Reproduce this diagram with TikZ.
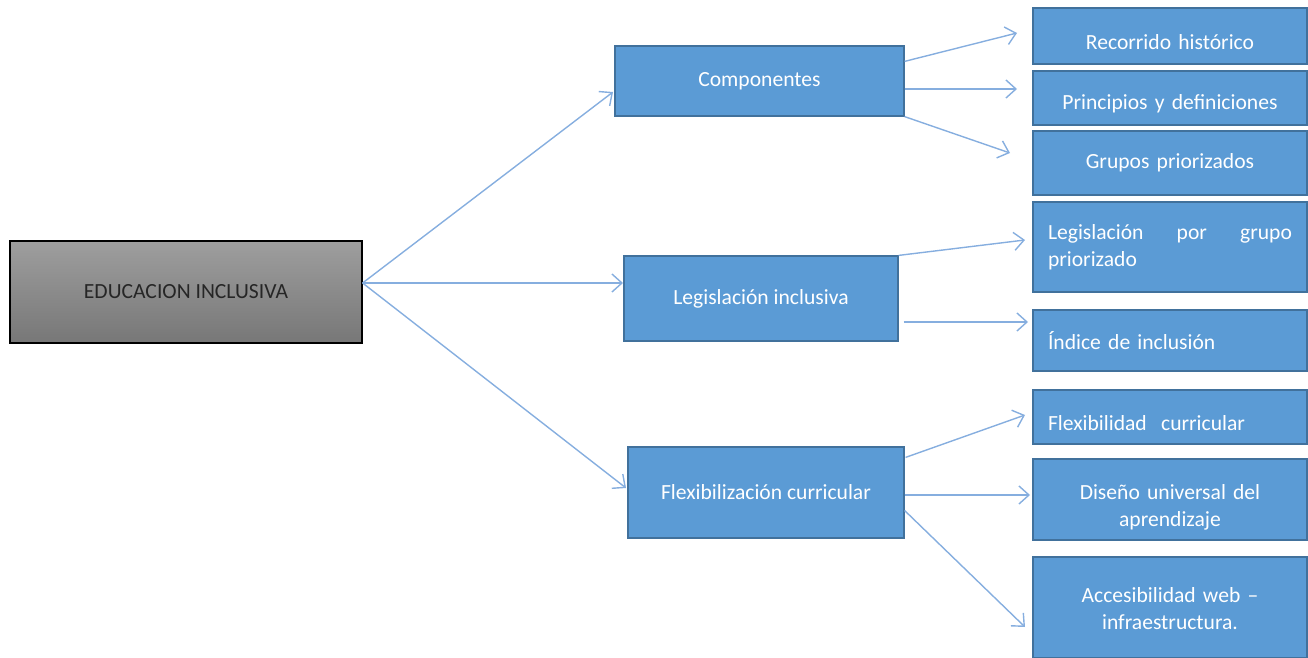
\documentclass[tikz,border=0pt]{standalone}
\usepackage{fontspec}
\setmainfont{Carlito}
\usetikzlibrary{arrows.meta,calc}
\definecolor{cajaazul}{HTML}{5B9BD5}
\definecolor{bordeazul}{HTML}{41719C}
\definecolor{flecha}{HTML}{86AEDF}
\definecolor{grisarriba}{HTML}{9E9E9E}
\definecolor{grisabajo}{HTML}{777777}
\newcommand{\bajar}[2]{\raisebox{-#1}[\height][\depth]{#2}}
\tikzset{
  caja/.style 2 args={draw=bordeazul,fill=cajaazul,text=white,line width=0.6pt,
    minimum width=#1*0.5pt,minimum height=#2*0.5pt,inner sep=0pt,
    font=\fontsize{10.8}{13.5}\selectfont},
  hoja/.style={caja={274}{#1},text width=122pt,inner xsep=7.5pt},
  flechita/.style={draw=flecha,line width=0.7pt,-{Straight Barb[length=5pt,width=9pt]}}
}
\begin{document}
\begin{tikzpicture}[x=0.5pt,y=-0.5pt]
  \useasboundingbox (0,0) rectangle (1308,658);
  % raiz
  \node[draw=black,line width=0.6pt,top color=grisarriba,bottom color=grisabajo,
    minimum width=176pt,minimum height=51pt,inner sep=0pt,text=black!85,
    font=\fontsize{10.8}{13.5}\selectfont] (raiz) at (186,292) {EDUCACION INCLUSIVA};
  % nivel intermedio
  \node[caja={289}{70}] (comp) at (759.5,81) {Componentes};
  \node[caja={274}{85}] (legi) at (761,298.5) {Legislación inclusiva};
  \node[caja={276}{91}] (flex) at (766,492.5) {Flexibilización curricular};
  % hojas
  \node[hoja={56},align=center] (rec) at (1170,36) {\bajar{3pt}{Recorrido histórico}};
  \node[hoja={54},align=center] (prin) at (1170,98) {\bajar{3pt}{Principios y definiciones}};
  \node[hoja={64},align=center] (grup) at (1170,163) {Grupos priorizados};
  \node[hoja={90},align=left] (lpg) at (1170,247) {Legislación\hfill por\hfill grupo\\priorizado};
  \node[hoja={61},align=left] (ind) at (1170,340.5) {Índice de inclusión};
  \node[hoja={54},align=left] (fcur) at (1170,417) {\bajar{3pt}{Flexibilidad\ \ curricular}};
  \node[hoja={81},align=center] (dis) at (1170,499.5) {\bajar{4pt}{\begin{tabular}{@{}c@{}}Diseño universal del\\aprendizaje\end{tabular}}};
  \node[hoja={101},align=center] (acc) at (1170,607.5) {\bajar{1.5pt}{\begin{tabular}{@{}c@{}}Accesibilidad web --\\infraestructura.\end{tabular}}};
  % puntas de flecha
  \coordinate (origen) at ($(raiz.east)+(0,-9)$);
  \coordinate (p1) at (613,92);
  \coordinate (p2) at (623,283);
  \coordinate (p3) at (626,488);
  \coordinate (p4) at (1017,33);
  \coordinate (p5) at (1017,89);
  \coordinate (p6) at (1010,153);
  \coordinate (p7) at (1025,240);
  \coordinate (p8) at (1028,322);
  \coordinate (p9) at (1025,415);
  \coordinate (p10) at (1030,495);
  \coordinate (p11) at (1025,627);
  % conectores
  \draw[flechita] (origen) -- (p1);
  \draw[flechita] (origen) -- (p2);
  \draw[flechita] (origen) -- (p3);
  \draw[flechita] ($(comp.north east)+(0,16)$) -- (p4);
  \draw[flechita] (comp.east |- p5) -- (p5);
  \draw[flechita] (comp.south east) -- (p6);
  \draw[flechita] (legi.north east) -- (p7);
  \draw[flechita] ($(legi.east |- p8)+(5,0)$) -- (p8);
  \draw[flechita] ($(flex.north east)+(1,11)$) -- (p9);
  \draw[flechita] (flex.east |- p10) -- (p10);
  \draw[flechita] ($(flex.east)+(0,18)$) -- (p11);
\end{tikzpicture}
\end{document}
